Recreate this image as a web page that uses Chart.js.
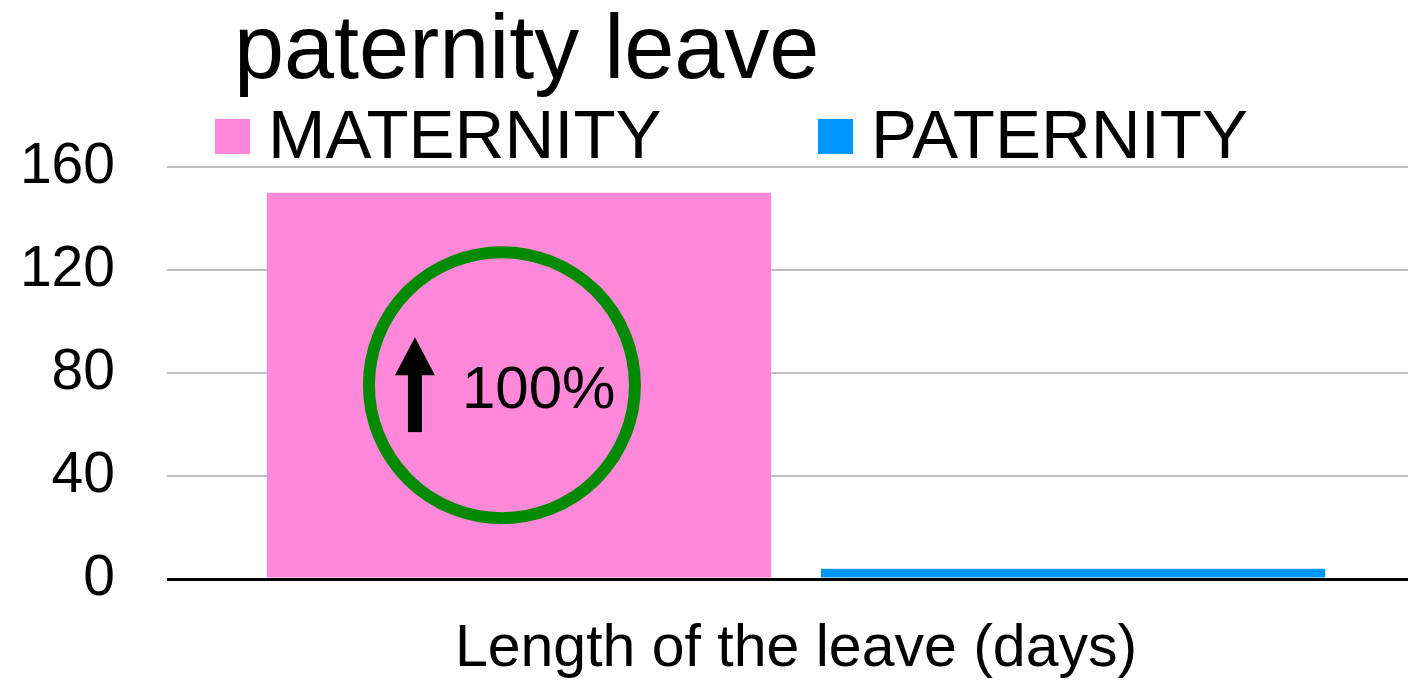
<!DOCTYPE html>
<html lang="en">

<head>
  <meta charset="UTF-8">
  <meta name="viewport" content="width=device-width, initial-scale=1.0">
  <script src="https://cdn.jsdelivr.net/npm/chart.js@4.4.1/dist/chart.umd.min.js"></script>
  <style>
    html, body {
      margin: 0;
      padding: 0;
      overflow: hidden;
      background: #fff;
    }
    #wrap {
      width: 1425px;
      height: 680px;
    }
  </style>
  <title>paternity leave</title>
</head>

<body>
  <div id="wrap">
    <canvas id="chart"></canvas>
  </div>

  <script>
    // chart values
    const categories = ['Length of the leave (days)'];
    const seriesNames = ['MATERNITY', 'PATERNITY'];
    const maternityDays = [150];
    const paternityDays = [4];
    const yTicks = [0, 40, 80, 120, 160];
    const chartTitle = 'paternity leave';
    const increaseLabel = '100%';

    const FONT = '"Liberation Sans", Arial, sans-serif';

    // title, legend and the green circle note are drawn by hand
    const decorations = {
      id: 'decorations',
      afterDatasetsDraw(chart) {
        const ctx = chart.ctx;
        ctx.save();

        // title
        ctx.fillStyle = '#000';
        ctx.textBaseline = 'alphabetic';
        ctx.textAlign = 'left';
        ctx.font = '90px ' + FONT;
        ctx.fillText(chartTitle, 234, 78);

        // legend
        const legendX = [215, 818];
        ctx.font = '69px ' + FONT;
        chart.data.datasets.forEach(function (ds, i) {
          ctx.fillStyle = ds.backgroundColor;
          ctx.fillRect(legendX[i], 119, 35, 35);
          ctx.fillStyle = '#000';
          ctx.fillText(ds.label, legendX[i] + 53, 158);
        });

        // circle with arrow over the maternity bar
        const bar = chart.getDatasetMeta(0).data[0];
        const cx = bar.x - 17;
        const cy = (bar.y + bar.base) / 2;
        ctx.strokeStyle = '#008a00';
        ctx.lineWidth = 12;
        ctx.beginPath();
        ctx.arc(cx, cy, 133, 0, Math.PI * 2);
        ctx.stroke();

        // arrow
        const ax = cx - 87;
        ctx.fillStyle = '#000';
        ctx.fillRect(ax - 7, cy - 12, 14, 59);
        ctx.beginPath();
        ctx.moveTo(ax, cy - 48);
        ctx.lineTo(ax + 20, cy - 10);
        ctx.lineTo(ax - 20, cy - 10);
        ctx.closePath();
        ctx.fill();

        ctx.font = '60px ' + FONT;
        ctx.fillText(increaseLabel, cx - 40, cy + 23);

        ctx.restore();
      }
    };

    const data = {
      labels: categories,
      datasets: [{
        label: seriesNames[0],
        data: maternityDays,
        backgroundColor: '#ff89d8'
      }, {
        label: seriesNames[1],
        data: paternityDays,
        backgroundColor: '#0096ff'
      }]
    };

    const config = {
      type: 'bar',
      data: data,
      options: {
        responsive: true,
        maintainAspectRatio: false,
        animation: false,
        categoryPercentage: 0.881,
        barPercentage: 0.91,
        layout: {
          padding: { top: 167, left: 22, right: 0, bottom: 0 }
        },
        plugins: {
          legend: { display: false },
          title: { display: false },
          tooltip: { enabled: false }
        },
        scales: {
          x: {
            grid: { display: false, drawTicks: false },
            border: { display: false },
            afterFit: function (axis) { axis.height = 101 },
            ticks: {
              color: '#000',
              padding: 35,
              font: { size: 59, family: FONT }
            }
          },
          y: {
            min: yTicks[0],
            max: yTicks[yTicks.length - 1],
            afterBuildTicks: function (axis) {
              axis.ticks = yTicks.map(function (v) { return { value: v } });
            },
            afterFit: function (axis) { axis.width = 145 },
            border: { display: false },
            grid: {
              drawTicks: false,
              color: function (c) { return c.tick && c.tick.value === 0 ? '#000' : '#bfbfbf' },
              lineWidth: function (c) { return c.tick && c.tick.value === 0 ? 3 : 2 }
            },
            ticks: {
              color: '#000',
              padding: 52,
              font: { size: 57, family: FONT }
            }
          }
        }
      },
      plugins: [decorations]
    };

    const chart = new Chart(document.getElementById('chart'), config);
  </script>
</body>

</html>
